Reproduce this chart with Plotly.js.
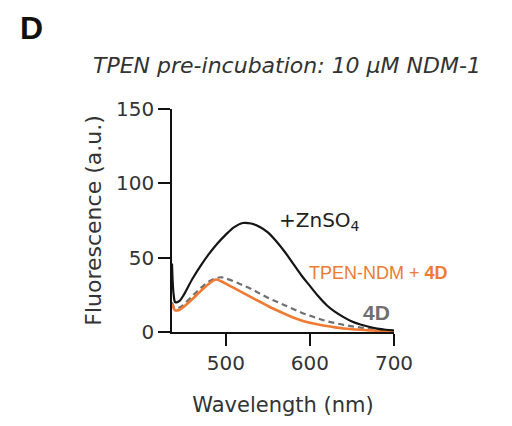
<!DOCTYPE html>
<html>
<head>
<meta charset="utf-8">
<script src="https://cdn.plot.ly/plotly-3.0.1.min.js"></script>
<style>html,body{margin:0;padding:0;background:#fff;}#chart{width:512px;height:426px;}</style>
</head>
<body>
<div id="chart"></div>
<script>
var wavelength = [436,438,440,445,450,460,470,480,490,500,510,520,530,540,550,560,570,580,590,600,610,620,630,640,650,660,670,680,690,700];
var znso4 = [46,25,20,21,25,35.5,44.5,52.5,59.5,65.5,70.5,73.3,73,70.8,67,61,54,46,38,31,24,18,13.5,10,7,5,3.5,2.3,1.5,1];
var wavelengthOrange = [436,438,440,445,450,460,470,480,488,495,500,510,520,530,540,550,560,570,580,590,600,610,620,630,640,650,660,670,680,690,700];
var tpenNdm4D = [19,16,14.5,15,17,22,27.5,32.5,35.3,34,32.5,29.5,26.5,23.5,20.5,17.5,14.8,12.2,9.8,7.8,6.2,5,4,3.1,2.4,1.9,1.5,1.1,0.8,0.6,0.4];
var wavelengthGray = [436,438,440,445,450,460,470,480,490,495,500,510,520,530,540,550,560,570,580,590,600,610,620,630,640,650,660,670,680,690,700];
var only4D = [20,17,16,16.5,18.5,24,29.5,34,36.5,36.8,36,34,31.5,29,26,23,20.5,18,15.5,13,11,9,7.3,6,4.8,3.8,3,2.3,1.7,1.3,1];
var xTicks = [500,600,700];
var yTicks = [0,50,100,150];

var orange = '#F07A32';
var wide = 'DejaVu Sans, Verdana, sans-serif';
var arial = 'Liberation Sans, Arial, sans-serif';

var traces = [
  {x: wavelengthGray, y: only4D, mode: 'lines', line: {color: '#6f6f6f', width: 2.2, dash: '6px,4px', shape: 'spline'}, hoverinfo: 'none'},
  {x: wavelengthOrange, y: tpenNdm4D, mode: 'lines', line: {color: orange, width: 2.6, shape: 'spline'}, hoverinfo: 'none'},
  {x: wavelength, y: znso4, mode: 'lines', line: {color: '#151515', width: 2.2, shape: 'spline'}, hoverinfo: 'none'}
];

var layout = {
  width: 512, height: 426,
  margin: {l: 172, r: 118, t: 109, b: 94},
  paper_bgcolor: '#fff', plot_bgcolor: '#fff',
  showlegend: false,
  font: {family: wide, color: '#333', size: 20},
  xaxis: {
    range: [436, 700], tickvals: xTicks, ticktext: xTicks.map(String),
    showgrid: false, zeroline: false, showline: true, linecolor: '#111', linewidth: 1.8,
    ticks: 'outside', ticklen: 12, tickwidth: 1.8, tickcolor: '#111',
    tickfont: {family: wide, size: 20, color: '#333'},
    title: {text: 'Wavelength (nm)', font: {family: wide, size: 21, color: '#333'}, standoff: 23}
  },
  yaxis: {
    range: [0, 150], tickvals: yTicks, ticktext: yTicks.map(String),
    showgrid: false, zeroline: false, showline: true, linecolor: '#111', linewidth: 1.8,
    ticks: 'outside', ticklen: 12, tickwidth: 1.8, tickcolor: '#111',
    tickfont: {family: wide, size: 20, color: '#333'},
    title: {text: 'Fluorescence (a.u.)', font: {family: wide, size: 22, color: '#333'}, standoff: 8}
  },
  annotations: [
    {xref: 'paper', yref: 'paper', x: -0.694, y: 1.365, xanchor: 'left', yanchor: 'middle', showarrow: false,
     text: '<b>D</b>', font: {family: arial, size: 32, color: '#111'}},
    {xref: 'paper', yref: 'paper', x: 0.518, y: 1.195, xanchor: 'center', yanchor: 'middle', showarrow: false,
     text: '<i>TPEN pre-incubation: 10 µM NDM-1</i>', font: {family: wide, size: 22, color: '#333'}},
    {xref: 'x', yref: 'y', x: 561, y: 75, xanchor: 'left', yanchor: 'middle', showarrow: false,
     text: '+ZnSO<sub>4</sub>', font: {family: wide, size: 20, color: '#222'}},
    {xref: 'x', yref: 'y', x: 596, y: 40, xanchor: 'left', yanchor: 'middle', showarrow: false,
     text: 'TPEN-NDM + <b>4D</b>', font: {family: arial, size: 18, color: orange}},
    {xref: 'x', yref: 'y', x: 661, y: 13, xanchor: 'left', yanchor: 'middle', showarrow: false,
     text: '<b>4D</b>', font: {family: arial, size: 21, color: '#6f6f6f'}}
  ]
};

Plotly.newPlot('chart', traces, layout, {displayModeBar: false, staticPlot: true});
</script>
</body>
</html>
